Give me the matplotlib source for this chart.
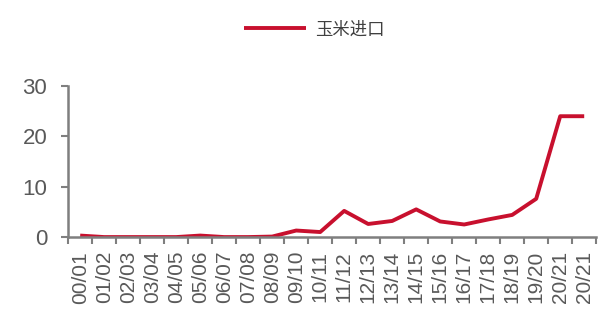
import numpy as np
import matplotlib.pyplot as plt

plt.rcParams['font.family'] = ['Liberation Sans', 'Noto Sans CJK SC', 'DejaVu Sans']

seasons = ['00/01', '01/02', '02/03', '03/04', '04/05', '05/06', '06/07', '07/08',
           '08/09', '09/10', '10/11', '11/12', '12/13', '13/14', '14/15', '15/16',
           '16/17', '17/18', '18/19', '19/20', '20/21', '20/21']
corn_imports = [0.3, 0.0, 0.0, 0.0, 0.0, 0.3, 0.0, 0.0, 0.1, 1.3, 1.0, 5.2,
                2.6, 3.2, 5.5, 3.1, 2.5, 3.5, 4.4, 7.6, 24.0, 24.0]

red = '#C8102E'
grey = '#7f7f7f'

fig = plt.figure(figsize=(5.98, 3.27), dpi=100)
ax = fig.add_axes([0.114, 0.275, 0.883, 0.462])

x = np.arange(len(seasons))
ax.plot(x, corn_imports, color=red, lw=2.8, solid_capstyle='butt', label='玉米进口')

ax.set_xlim(-0.5, len(seasons) - 0.5)
ax.set_ylim(0, 30)
ax.set_yticks([0, 10, 20, 30])

# category labels sit between the boundary ticks
ax.set_xticks(np.arange(-0.5, len(seasons), 1.0))
ax.set_xticklabels([])
ax.set_xticks(x, minor=True)
ax.set_xticklabels(seasons, minor=True, rotation=90, fontsize=15, color='#595959')
ax.tick_params(axis='x', which='minor', length=0, pad=10)
ax.tick_params(axis='x', which='major', length=5, width=1.5, color=grey, direction='out')
ax.tick_params(axis='y', length=5, width=1.5, color=grey, labelsize=16,
               labelcolor='#595959', pad=10)

for s in ['top', 'right']:
    ax.spines[s].set_visible(False)
for s in ['left', 'bottom']:
    ax.spines[s].set_color(grey)
    ax.spines[s].set_linewidth(1.8)

fig.legend(loc='upper center', bbox_to_anchor=(0.525, 0.985), frameon=False,
           handlelength=3.6, handletextpad=0.5,
           prop={'family': ['Noto Sans CJK SC'], 'size': 12.5})
for t in fig.legends[0].get_texts():
    t.set_color('#404040')

fig.savefig('out.png', dpi=100)
